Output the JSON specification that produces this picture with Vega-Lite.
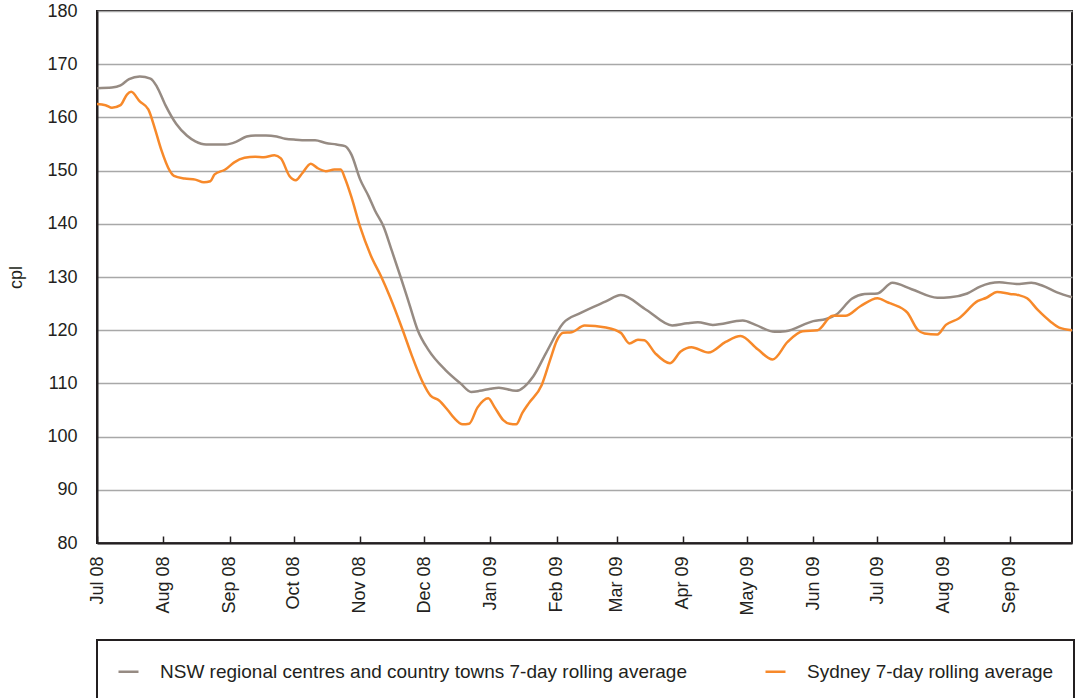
{
  "$schema": "https://vega.github.io/schema/vega-lite/v6.json",
  "width": 975,
  "height": 532,
  "autosize": {"type": "none"},
  "padding": {"left": 97, "top": 11, "right": 3, "bottom": 155},
  "background": "white",
  "config": {
    "font": "Liberation Sans",
    "view": {"stroke": "#231f20", "strokeWidth": 2},
    "axis": {"labelColor": "#231f20", "titleColor": "#231f20", "labelFont": "Liberation Sans", "titleFont": "Liberation Sans"}
  },
  "datasets": {
    "series": [
      {"date": "2008-07-01", "s": "NSW regional centres and country towns 7-day rolling average", "v": 165.5},
      {"date": "2008-07-08", "s": "NSW regional centres and country towns 7-day rolling average", "v": 165.6},
      {"date": "2008-07-12", "s": "NSW regional centres and country towns 7-day rolling average", "v": 166.0},
      {"date": "2008-07-16", "s": "NSW regional centres and country towns 7-day rolling average", "v": 167.2},
      {"date": "2008-07-21", "s": "NSW regional centres and country towns 7-day rolling average", "v": 167.7},
      {"date": "2008-07-26", "s": "NSW regional centres and country towns 7-day rolling average", "v": 167.3},
      {"date": "2008-07-29", "s": "NSW regional centres and country towns 7-day rolling average", "v": 165.8},
      {"date": "2008-08-02", "s": "NSW regional centres and country towns 7-day rolling average", "v": 162.3},
      {"date": "2008-08-07", "s": "NSW regional centres and country towns 7-day rolling average", "v": 158.8},
      {"date": "2008-08-12", "s": "NSW regional centres and country towns 7-day rolling average", "v": 156.6},
      {"date": "2008-08-16", "s": "NSW regional centres and country towns 7-day rolling average", "v": 155.5},
      {"date": "2008-08-21", "s": "NSW regional centres and country towns 7-day rolling average", "v": 154.9},
      {"date": "2008-08-26", "s": "NSW regional centres and country towns 7-day rolling average", "v": 154.9},
      {"date": "2008-08-30", "s": "NSW regional centres and country towns 7-day rolling average", "v": 154.9},
      {"date": "2008-09-04", "s": "NSW regional centres and country towns 7-day rolling average", "v": 155.4},
      {"date": "2008-09-09", "s": "NSW regional centres and country towns 7-day rolling average", "v": 156.4},
      {"date": "2008-09-13", "s": "NSW regional centres and country towns 7-day rolling average", "v": 156.6},
      {"date": "2008-09-18", "s": "NSW regional centres and country towns 7-day rolling average", "v": 156.6},
      {"date": "2008-09-23", "s": "NSW regional centres and country towns 7-day rolling average", "v": 156.4},
      {"date": "2008-09-27", "s": "NSW regional centres and country towns 7-day rolling average", "v": 156.0},
      {"date": "2008-10-02", "s": "NSW regional centres and country towns 7-day rolling average", "v": 155.8},
      {"date": "2008-10-07", "s": "NSW regional centres and country towns 7-day rolling average", "v": 155.7},
      {"date": "2008-10-11", "s": "NSW regional centres and country towns 7-day rolling average", "v": 155.7},
      {"date": "2008-10-16", "s": "NSW regional centres and country towns 7-day rolling average", "v": 155.2},
      {"date": "2008-10-21", "s": "NSW regional centres and country towns 7-day rolling average", "v": 154.9},
      {"date": "2008-10-25", "s": "NSW regional centres and country towns 7-day rolling average", "v": 154.6},
      {"date": "2008-10-28", "s": "NSW regional centres and country towns 7-day rolling average", "v": 153.0},
      {"date": "2008-11-01", "s": "NSW regional centres and country towns 7-day rolling average", "v": 148.4},
      {"date": "2008-11-05", "s": "NSW regional centres and country towns 7-day rolling average", "v": 145.2},
      {"date": "2008-11-08", "s": "NSW regional centres and country towns 7-day rolling average", "v": 142.5},
      {"date": "2008-11-12", "s": "NSW regional centres and country towns 7-day rolling average", "v": 139.5},
      {"date": "2008-11-16", "s": "NSW regional centres and country towns 7-day rolling average", "v": 134.8},
      {"date": "2008-11-20", "s": "NSW regional centres and country towns 7-day rolling average", "v": 130.0},
      {"date": "2008-11-24", "s": "NSW regional centres and country towns 7-day rolling average", "v": 125.0},
      {"date": "2008-11-28", "s": "NSW regional centres and country towns 7-day rolling average", "v": 120.0},
      {"date": "2008-12-03", "s": "NSW regional centres and country towns 7-day rolling average", "v": 116.3},
      {"date": "2008-12-11", "s": "NSW regional centres and country towns 7-day rolling average", "v": 112.5},
      {"date": "2008-12-18", "s": "NSW regional centres and country towns 7-day rolling average", "v": 110.0},
      {"date": "2008-12-23", "s": "NSW regional centres and country towns 7-day rolling average", "v": 108.4},
      {"date": "2008-12-27", "s": "NSW regional centres and country towns 7-day rolling average", "v": 108.6},
      {"date": "2009-01-01", "s": "NSW regional centres and country towns 7-day rolling average", "v": 109.0},
      {"date": "2009-01-05", "s": "NSW regional centres and country towns 7-day rolling average", "v": 109.2},
      {"date": "2009-01-13", "s": "NSW regional centres and country towns 7-day rolling average", "v": 108.6},
      {"date": "2009-01-21", "s": "NSW regional centres and country towns 7-day rolling average", "v": 111.3},
      {"date": "2009-01-27", "s": "NSW regional centres and country towns 7-day rolling average", "v": 115.7},
      {"date": "2009-02-04", "s": "NSW regional centres and country towns 7-day rolling average", "v": 121.3},
      {"date": "2009-02-12", "s": "NSW regional centres and country towns 7-day rolling average", "v": 123.2},
      {"date": "2009-02-24", "s": "NSW regional centres and country towns 7-day rolling average", "v": 125.4},
      {"date": "2009-03-03", "s": "NSW regional centres and country towns 7-day rolling average", "v": 126.6},
      {"date": "2009-03-15", "s": "NSW regional centres and country towns 7-day rolling average", "v": 123.8},
      {"date": "2009-03-27", "s": "NSW regional centres and country towns 7-day rolling average", "v": 120.9},
      {"date": "2009-04-03", "s": "NSW regional centres and country towns 7-day rolling average", "v": 121.3},
      {"date": "2009-04-08", "s": "NSW regional centres and country towns 7-day rolling average", "v": 121.5},
      {"date": "2009-04-15", "s": "NSW regional centres and country towns 7-day rolling average", "v": 121.0},
      {"date": "2009-04-29", "s": "NSW regional centres and country towns 7-day rolling average", "v": 121.8},
      {"date": "2009-05-05", "s": "NSW regional centres and country towns 7-day rolling average", "v": 121.0},
      {"date": "2009-05-14", "s": "NSW regional centres and country towns 7-day rolling average", "v": 119.7},
      {"date": "2009-05-19", "s": "NSW regional centres and country towns 7-day rolling average", "v": 119.8},
      {"date": "2009-06-01", "s": "NSW regional centres and country towns 7-day rolling average", "v": 121.7},
      {"date": "2009-06-07", "s": "NSW regional centres and country towns 7-day rolling average", "v": 122.1},
      {"date": "2009-06-12", "s": "NSW regional centres and country towns 7-day rolling average", "v": 123.0},
      {"date": "2009-06-19", "s": "NSW regional centres and country towns 7-day rolling average", "v": 125.9},
      {"date": "2009-06-25", "s": "NSW regional centres and country towns 7-day rolling average", "v": 126.8},
      {"date": "2009-07-01", "s": "NSW regional centres and country towns 7-day rolling average", "v": 126.9},
      {"date": "2009-07-08", "s": "NSW regional centres and country towns 7-day rolling average", "v": 128.9},
      {"date": "2009-07-17", "s": "NSW regional centres and country towns 7-day rolling average", "v": 127.7},
      {"date": "2009-07-29", "s": "NSW regional centres and country towns 7-day rolling average", "v": 126.1},
      {"date": "2009-08-04", "s": "NSW regional centres and country towns 7-day rolling average", "v": 126.2},
      {"date": "2009-08-12", "s": "NSW regional centres and country towns 7-day rolling average", "v": 126.9},
      {"date": "2009-08-18", "s": "NSW regional centres and country towns 7-day rolling average", "v": 128.2},
      {"date": "2009-08-27", "s": "NSW regional centres and country towns 7-day rolling average", "v": 129.0},
      {"date": "2009-09-04", "s": "NSW regional centres and country towns 7-day rolling average", "v": 128.7},
      {"date": "2009-09-11", "s": "NSW regional centres and country towns 7-day rolling average", "v": 128.9},
      {"date": "2009-09-16", "s": "NSW regional centres and country towns 7-day rolling average", "v": 128.4},
      {"date": "2009-09-23", "s": "NSW regional centres and country towns 7-day rolling average", "v": 127.1},
      {"date": "2009-09-30", "s": "NSW regional centres and country towns 7-day rolling average", "v": 126.2},
      {"date": "2008-07-01", "s": "Sydney 7-day rolling average", "v": 162.5},
      {"date": "2008-07-05", "s": "Sydney 7-day rolling average", "v": 162.3},
      {"date": "2008-07-08", "s": "Sydney 7-day rolling average", "v": 161.8},
      {"date": "2008-07-12", "s": "Sydney 7-day rolling average", "v": 162.3},
      {"date": "2008-07-15", "s": "Sydney 7-day rolling average", "v": 164.3},
      {"date": "2008-07-17", "s": "Sydney 7-day rolling average", "v": 164.8},
      {"date": "2008-07-21", "s": "Sydney 7-day rolling average", "v": 163.0},
      {"date": "2008-07-25", "s": "Sydney 7-day rolling average", "v": 161.5},
      {"date": "2008-07-28", "s": "Sydney 7-day rolling average", "v": 158.0},
      {"date": "2008-07-31", "s": "Sydney 7-day rolling average", "v": 154.0},
      {"date": "2008-08-04", "s": "Sydney 7-day rolling average", "v": 150.0},
      {"date": "2008-08-06", "s": "Sydney 7-day rolling average", "v": 149.0},
      {"date": "2008-08-11", "s": "Sydney 7-day rolling average", "v": 148.5},
      {"date": "2008-08-16", "s": "Sydney 7-day rolling average", "v": 148.3},
      {"date": "2008-08-20", "s": "Sydney 7-day rolling average", "v": 147.8},
      {"date": "2008-08-23", "s": "Sydney 7-day rolling average", "v": 148.0},
      {"date": "2008-08-25", "s": "Sydney 7-day rolling average", "v": 149.3},
      {"date": "2008-08-30", "s": "Sydney 7-day rolling average", "v": 150.2},
      {"date": "2008-09-03", "s": "Sydney 7-day rolling average", "v": 151.5},
      {"date": "2008-09-08", "s": "Sydney 7-day rolling average", "v": 152.4},
      {"date": "2008-09-13", "s": "Sydney 7-day rolling average", "v": 152.6},
      {"date": "2008-09-17", "s": "Sydney 7-day rolling average", "v": 152.5},
      {"date": "2008-09-22", "s": "Sydney 7-day rolling average", "v": 152.9},
      {"date": "2008-09-25", "s": "Sydney 7-day rolling average", "v": 152.3},
      {"date": "2008-09-29", "s": "Sydney 7-day rolling average", "v": 149.0},
      {"date": "2008-10-02", "s": "Sydney 7-day rolling average", "v": 148.2},
      {"date": "2008-10-05", "s": "Sydney 7-day rolling average", "v": 149.5},
      {"date": "2008-10-09", "s": "Sydney 7-day rolling average", "v": 151.3},
      {"date": "2008-10-12", "s": "Sydney 7-day rolling average", "v": 150.5},
      {"date": "2008-10-16", "s": "Sydney 7-day rolling average", "v": 149.9},
      {"date": "2008-10-20", "s": "Sydney 7-day rolling average", "v": 150.2},
      {"date": "2008-10-23", "s": "Sydney 7-day rolling average", "v": 150.2},
      {"date": "2008-10-25", "s": "Sydney 7-day rolling average", "v": 148.5},
      {"date": "2008-10-28", "s": "Sydney 7-day rolling average", "v": 145.0},
      {"date": "2008-11-01", "s": "Sydney 7-day rolling average", "v": 139.5},
      {"date": "2008-11-06", "s": "Sydney 7-day rolling average", "v": 134.1},
      {"date": "2008-11-11", "s": "Sydney 7-day rolling average", "v": 130.0},
      {"date": "2008-11-15", "s": "Sydney 7-day rolling average", "v": 126.3},
      {"date": "2008-11-21", "s": "Sydney 7-day rolling average", "v": 120.0},
      {"date": "2008-11-25", "s": "Sydney 7-day rolling average", "v": 115.5},
      {"date": "2008-11-30", "s": "Sydney 7-day rolling average", "v": 110.5},
      {"date": "2008-12-04", "s": "Sydney 7-day rolling average", "v": 107.7},
      {"date": "2008-12-08", "s": "Sydney 7-day rolling average", "v": 106.8},
      {"date": "2008-12-12", "s": "Sydney 7-day rolling average", "v": 105.0},
      {"date": "2008-12-15", "s": "Sydney 7-day rolling average", "v": 103.5},
      {"date": "2008-12-19", "s": "Sydney 7-day rolling average", "v": 102.3},
      {"date": "2008-12-22", "s": "Sydney 7-day rolling average", "v": 102.4},
      {"date": "2008-12-26", "s": "Sydney 7-day rolling average", "v": 105.5},
      {"date": "2008-12-31", "s": "Sydney 7-day rolling average", "v": 107.2},
      {"date": "2009-01-03", "s": "Sydney 7-day rolling average", "v": 105.5},
      {"date": "2009-01-07", "s": "Sydney 7-day rolling average", "v": 103.1},
      {"date": "2009-01-10", "s": "Sydney 7-day rolling average", "v": 102.4},
      {"date": "2009-01-13", "s": "Sydney 7-day rolling average", "v": 102.3},
      {"date": "2009-01-16", "s": "Sydney 7-day rolling average", "v": 104.5},
      {"date": "2009-01-19", "s": "Sydney 7-day rolling average", "v": 106.3},
      {"date": "2009-01-25", "s": "Sydney 7-day rolling average", "v": 109.7},
      {"date": "2009-01-29", "s": "Sydney 7-day rolling average", "v": 114.5},
      {"date": "2009-02-01", "s": "Sydney 7-day rolling average", "v": 118.0},
      {"date": "2009-02-04", "s": "Sydney 7-day rolling average", "v": 119.5},
      {"date": "2009-02-08", "s": "Sydney 7-day rolling average", "v": 119.6},
      {"date": "2009-02-14", "s": "Sydney 7-day rolling average", "v": 120.9},
      {"date": "2009-02-24", "s": "Sydney 7-day rolling average", "v": 120.5},
      {"date": "2009-03-03", "s": "Sydney 7-day rolling average", "v": 119.5},
      {"date": "2009-03-07", "s": "Sydney 7-day rolling average", "v": 117.5},
      {"date": "2009-03-11", "s": "Sydney 7-day rolling average", "v": 118.2},
      {"date": "2009-03-14", "s": "Sydney 7-day rolling average", "v": 118.1},
      {"date": "2009-03-19", "s": "Sydney 7-day rolling average", "v": 115.7},
      {"date": "2009-03-26", "s": "Sydney 7-day rolling average", "v": 113.8},
      {"date": "2009-03-31", "s": "Sydney 7-day rolling average", "v": 116.0},
      {"date": "2009-04-05", "s": "Sydney 7-day rolling average", "v": 116.8},
      {"date": "2009-04-13", "s": "Sydney 7-day rolling average", "v": 115.8},
      {"date": "2009-04-21", "s": "Sydney 7-day rolling average", "v": 117.8},
      {"date": "2009-04-28", "s": "Sydney 7-day rolling average", "v": 118.9},
      {"date": "2009-05-06", "s": "Sydney 7-day rolling average", "v": 116.4},
      {"date": "2009-05-13", "s": "Sydney 7-day rolling average", "v": 114.5},
      {"date": "2009-05-20", "s": "Sydney 7-day rolling average", "v": 117.8},
      {"date": "2009-05-27", "s": "Sydney 7-day rolling average", "v": 119.8},
      {"date": "2009-06-03", "s": "Sydney 7-day rolling average", "v": 120.0},
      {"date": "2009-06-10", "s": "Sydney 7-day rolling average", "v": 122.7},
      {"date": "2009-06-16", "s": "Sydney 7-day rolling average", "v": 122.7},
      {"date": "2009-06-23", "s": "Sydney 7-day rolling average", "v": 124.5},
      {"date": "2009-07-01", "s": "Sydney 7-day rolling average", "v": 126.0},
      {"date": "2009-07-06", "s": "Sydney 7-day rolling average", "v": 125.2},
      {"date": "2009-07-08", "s": "Sydney 7-day rolling average", "v": 124.9},
      {"date": "2009-07-15", "s": "Sydney 7-day rolling average", "v": 123.3},
      {"date": "2009-07-20", "s": "Sydney 7-day rolling average", "v": 120.0},
      {"date": "2009-07-23", "s": "Sydney 7-day rolling average", "v": 119.4},
      {"date": "2009-07-29", "s": "Sydney 7-day rolling average", "v": 119.2},
      {"date": "2009-08-02", "s": "Sydney 7-day rolling average", "v": 121.0},
      {"date": "2009-08-08", "s": "Sydney 7-day rolling average", "v": 122.2},
      {"date": "2009-08-17", "s": "Sydney 7-day rolling average", "v": 125.5},
      {"date": "2009-08-21", "s": "Sydney 7-day rolling average", "v": 126.1},
      {"date": "2009-08-26", "s": "Sydney 7-day rolling average", "v": 127.2},
      {"date": "2009-09-01", "s": "Sydney 7-day rolling average", "v": 126.8},
      {"date": "2009-09-05", "s": "Sydney 7-day rolling average", "v": 126.6},
      {"date": "2009-09-09", "s": "Sydney 7-day rolling average", "v": 126.0},
      {"date": "2009-09-14", "s": "Sydney 7-day rolling average", "v": 123.8},
      {"date": "2009-09-20", "s": "Sydney 7-day rolling average", "v": 121.6},
      {"date": "2009-09-24", "s": "Sydney 7-day rolling average", "v": 120.5},
      {"date": "2009-09-30", "s": "Sydney 7-day rolling average", "v": 120.0}
    ]
  },
  "data": {"name": "series"},
  "mark": {"type": "line", "interpolate": "monotone", "strokeWidth": 2.5},
  "encoding": {
    "x": {
      "field": "date",
      "type": "temporal",
      "scale": {"type": "utc", "domain": [1214870400000, 1254268800000], "nice": false},
      "axis": {
        "title": null,
        "grid": false,
        "labelExpr": "utcFormat(datum.value, '%b %y')",
        "tickCount": {"interval": "month", "step": 1},
        "labelAngle": 270,
        "labelAlign": "right",
        "labelBaseline": "middle",
        "labelFontSize": 18,
        "labelPadding": 20,
        "labelFlush": false,
        "labelOverlap": false,
        "tickSize": -7,
        "tickColor": "#231f20",
        "tickWidth": 1.5,
        "domainColor": "#231f20",
        "domainWidth": 2
      }
    },
    "y": {
      "field": "v",
      "type": "quantitative",
      "scale": {"domain": [80, 180], "nice": false, "zero": false},
      "axis": {
        "title": "cpl",
        "titleFontSize": 18,
        "titleFontWeight": "normal",
        "titlePadding": 21,
        "values": [80, 90, 100, 110, 120, 130, 140, 150, 160, 170, 180],
        "labelFontSize": 18,
        "labelPadding": 20,
        "ticks": false,
        "grid": true,
        "gridColor": "#a8a8a8",
        "gridWidth": 1.5,
        "domainColor": "#231f20",
        "domainWidth": 2
      }
    },
    "color": {
      "field": "s",
      "type": "nominal",
      "scale": {"domain": ["NSW regional centres and country towns 7-day rolling average", "Sydney 7-day rolling average"], "range": ["#968b83", "#f7892a"]},
      "legend": {
        "title": null,
        "orient": "none",
        "legendX": 0,
        "legendY": 629,
        "direction": "horizontal",
        "symbolType": "stroke",
        "symbolSize": 400,
        "symbolStrokeWidth": 2.5,
        "labelFontSize": 19,
        "labelFont": "Liberation Sans",
        "labelColor": "#231f20",
        "labelLimit": 1000,
        "labelOffset": 20,
        "columnPadding": 73,
        "padding": 20,
        "strokeColor": "#231f20",
        "encode": {"legend": {"update": {"strokeWidth": {"value": 2}}}}
      }
    }
  }
}
